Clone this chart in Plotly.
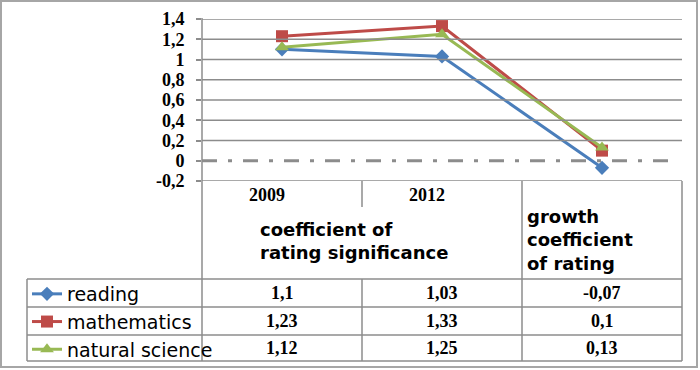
import plotly.graph_objects as go

categories = ["2009", "2012", "growth coefficient of rating"]
series_names = ["reading", "mathematics", "natural science"]
reading = [1.1, 1.03, -0.07]
mathematics = [1.23, 1.33, 0.1]
natural_science = [1.12, 1.25, 0.13]
y_tick_vals = [-0.2, 0, 0.2, 0.4, 0.6, 0.8, 1.0, 1.2, 1.4]
y_tick_text = ["-0,2", "0", "0,2", "0,4", "0,6", "0,8", "1", "1,2", "1,4"]
header_group = "coefficient of<br>rating significance"
header_growth = "growth<br>coefficient<br>of rating"

colors = ["#4A7EBB", "#BE4B48", "#98B954"]
symbols = ["diamond", "square", "triangle-up"]
msizes = [11, 12, 12]
values = [reading, mathematics, natural_science]

W, H = 700, 370
L, R, T, B = 202, 18, 19, 189
PW, PH = W - L - R, H - T - B


def px(x):
    return (x - L) / PW


def py(y):
    return (H - B - y) / PH


fig = go.Figure()
for name, vals, c, s, ms in zip(series_names, values, colors, symbols, msizes):
    fig.add_trace(go.Scatter(
        x=categories, y=vals, name=name, mode="lines+markers",
        line=dict(color=c, width=3),
        marker=dict(symbol=s, size=ms, color=c),
    ))

grid = "#8c8c8c"
shapes = []
# outer border
shapes.append(dict(type="rect", xref="paper", yref="paper", x0=px(1), x1=px(697), y0=py(1), y1=py(367),
                   line=dict(color="#a6a6a6", width=2)))
# gridlines
for v in y_tick_vals:
    if v == 0:
        continue
    shapes.append(dict(type="line", xref="paper", yref="y", x0=0, x1=1, y0=v, y1=v,
                       line=dict(color=grid, width=1.5)))
# zero dash-dot line
shapes.append(dict(type="line", xref="paper", yref="y", x0=0, x1=px(678), y0=0, y1=0,
                   line=dict(color="#8c8c8c", width=3, dash="15px,11px,4px,11px")))
# axis line extended through table
shapes.append(dict(type="line", xref="paper", yref="paper", x0=0, x1=0, y0=py(361), y1=py(18),
                   line=dict(color=grid, width=1.5)))
# table verticals
for x0, ya, yb in [(362, 181, 207), (362, 279, 361), (522, 181, 361), (682, 181, 361), (27, 279, 361)]:
    shapes.append(dict(type="line", xref="paper", yref="paper", x0=px(x0), x1=px(x0), y0=py(ya), y1=py(yb),
                       line=dict(color=grid, width=1.5)))
# table horizontals
for yy in [279, 307, 335, 361]:
    shapes.append(dict(type="line", xref="paper", yref="paper", x0=px(27), x1=1, y0=py(yy), y1=py(yy),
                       line=dict(color=grid, width=1.5)))

serif = dict(family="Liberation Serif", size=18, color="black", weight="bold")
sans_b = dict(family="DejaVu Sans", size=18, color="black", weight="bold")

ann = []
for i, cat in enumerate(categories[:2]):
    ann.append(dict(x=i, xref="x", y=py(195), yref="paper", text=cat, showarrow=False,
                    xshift=-15, font=serif, xanchor="center", yanchor="middle"))
ann.append(dict(x=px(258), xref="paper", y=py(241), yref="paper", text=header_group, showarrow=False,
                xanchor="left", yanchor="middle", align="left", font=sans_b))
ann.append(dict(x=px(525), xref="paper", y=py(240), yref="paper", text=header_growth, showarrow=False,
                xanchor="left", yanchor="middle", align="left", font=sans_b))
row_centers = [293, 321, 348]
for vals, rc in zip(values, row_centers):
    for i, v in enumerate(vals):
        ann.append(dict(x=i, xref="x", y=py(rc), yref="paper", text=str(v).replace(".", ","),
                        showarrow=False, font=serif, xanchor="center", yanchor="middle"))

fig.update_layout(
    width=W, height=H,
    margin=dict(l=L, r=R, t=T, b=B, pad=0, autoexpand=False),
    paper_bgcolor="white", plot_bgcolor="white",
    xaxis=dict(type="category", range=[-0.5, 2.5], showgrid=False, zeroline=False,
               showticklabels=False, showline=False, ticks=""),
    yaxis=dict(range=[-0.2, 1.4], tickvals=y_tick_vals, ticktext=y_tick_text, showgrid=False,
               zeroline=False, showline=False, ticks="outside", ticklen=5, tickwidth=1.5,
               tickcolor=grid, tickfont=serif, ticklabelstandoff=8),
    showlegend=True,
    legend=dict(x=px(27), y=py(275), xanchor="left", yanchor="top", bgcolor="rgba(0,0,0,0)",
                font=dict(family="DejaVu Sans", size=19, color="black"), tracegroupgap=0,
                borderwidth=0),
    shapes=shapes,
    annotations=ann,
)

fig.write_html("out.html", config={"displayModeBar": False},
               post_script="document.body.style.margin='0';")
